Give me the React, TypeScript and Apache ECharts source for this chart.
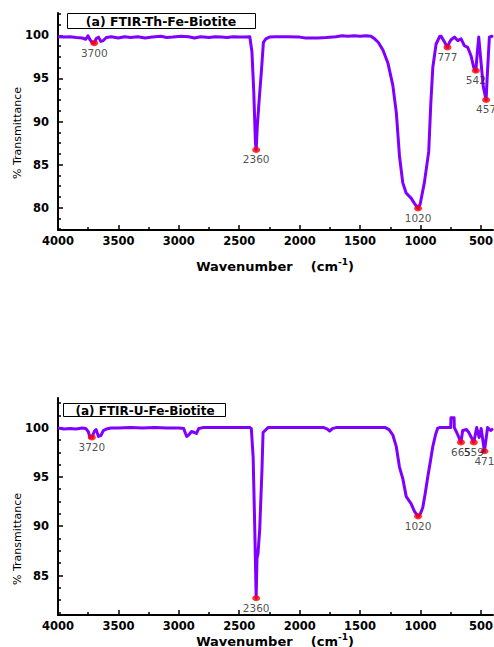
import React, { useEffect, useRef } from "react";
import * as echarts from "echarts";

// ---- Data (wavenumber cm^-1, % transmittance) ----
const thSpectrum: [number, number][] = [
  [4000, 99.85], [3950, 99.8], [3900, 99.85], [3850, 99.75], [3800, 99.7], [3770, 99.55],
  [3752, 99.95], [3735, 99.5], [3712, 99.1], [3700, 99.1], [3685, 99.6], [3665, 99.8],
  [3645, 99.3], [3625, 99.4], [3600, 99.75], [3560, 99.85], [3500, 99.7], [3450, 99.85],
  [3400, 99.75], [3340, 99.85], [3280, 99.7], [3220, 99.8], [3150, 99.9], [3100, 99.75],
  [3050, 99.8], [2980, 99.9], [2920, 99.85], [2870, 99.7], [2820, 99.85], [2750, 99.75],
  [2700, 99.85], [2650, 99.8], [2600, 99.75], [2550, 99.85], [2500, 99.8], [2450, 99.8],
  [2413, 99.85], [2395, 98.1], [2380, 93.5], [2366, 87.5], [2360, 86.7], [2350, 89.6],
  [2335, 92.5], [2317, 95.8], [2300, 99.2], [2280, 99.6], [2250, 99.8], [2200, 99.85],
  [2100, 99.85], [2000, 99.8], [1950, 99.7], [1850, 99.7], [1780, 99.75], [1700, 99.85],
  [1650, 99.95], [1600, 99.9], [1550, 99.95], [1500, 99.9], [1450, 99.95], [1410, 99.9],
  [1380, 99.6], [1350, 99.2], [1311, 98.3], [1270, 96.8], [1229, 94.2], [1200, 91.0],
  [1174, 86.0], [1147, 82.9], [1119, 81.7], [1078, 81.1], [1050, 80.5], [1020, 79.9],
  [1003, 80.4], [968, 82.9], [932, 86.5], [915, 92.0], [898, 96.3], [871, 99.0],
  [840, 99.9], [829, 99.9], [800, 99.2], [777, 98.6], [760, 99.2], [747, 99.5],
  [719, 99.8], [692, 99.4], [664, 99.6], [637, 98.8], [609, 98.6], [581, 97.6],
  [560, 96.3], [542, 95.9], [530, 98.0], [518, 99.8], [500, 97.0], [480, 94.0],
  [457, 92.5], [445, 96.0], [430, 99.8], [410, 99.9], [400, 99.8],
];
const thPeakWavenumbers = [3700, 2360, 1020, 777, 542, 457];
const thPeakValues = [99.1, 86.7, 79.9, 98.6, 95.9, 92.5];

const uSpectrum: [number, number][] = [
  [4000, 99.95], [3950, 99.85], [3900, 99.9], [3850, 99.85], [3800, 99.95], [3770, 99.9],
  [3750, 99.6], [3735, 99.0], [3720, 99.0], [3700, 99.6], [3685, 99.8], [3665, 99.1],
  [3645, 99.2], [3625, 99.7], [3600, 99.85], [3560, 99.95], [3500, 99.95], [3400, 100],
  [3300, 99.95], [3200, 100], [3100, 99.95], [3000, 99.95], [2960, 99.9], [2945, 99.4],
  [2935, 99.1], [2915, 99.3], [2895, 99.6], [2870, 99.5], [2855, 99.4], [2835, 99.9],
  [2800, 100], [2600, 100], [2410, 100], [2400, 99.9], [2385, 97.0], [2372, 90.0],
  [2360, 82.7], [2353, 86.8], [2345, 87.2], [2331, 89.6], [2312, 95.7], [2303, 99.5],
  [2262, 100], [2000, 100], [1800, 100], [1770, 99.85], [1752, 99.65], [1730, 99.9],
  [1700, 100], [1500, 100], [1290, 100], [1260, 99.8], [1229, 99.25], [1201, 98.1],
  [1174, 96.0], [1146, 94.8], [1118, 93.0], [1078, 92.3], [1050, 91.5], [1020, 91.0],
  [1000, 91.3], [981, 91.9], [960, 93.4], [940, 95.0], [918, 96.6], [898, 98.1],
  [875, 99.3], [857, 99.95], [843, 100], [750, 100], [748, 101], [722, 101], [720, 100],
  [700, 99.5], [665, 98.5], [651, 99.7], [620, 99.8], [600, 99.5], [559, 98.5],
  [535, 100], [515, 99.0], [498, 99.9], [471, 97.6], [445, 100], [420, 99.7], [400, 99.9],
];
const uPeakWavenumbers = [3720, 2360, 1020, 665, 559, 471];
const uPeakValues = [99.0, 82.7, 91.0, 98.5, 98.5, 97.6];

const xTickLabels = [4000, 3500, 3000, 2500, 2000, 1500, 1000, 500];
const xMinorTicks = [3750, 3250, 2750, 2250, 1750, 1250, 750];
const thYTicks = [80, 85, 90, 95, 100];
const uYTicks = [85, 90, 95, 100];

const LINE_COLOR = "#8000ff";
const FONT = "'DejaVu Sans', 'Liberation Sans', Arial, sans-serif";

function minorList(min: number, max: number, step: number, majors: number[]) {
  const out: number[] = [];
  for (let v = Math.ceil(min / step) * step; v <= max + 1e-9; v += step) {
    const r = Math.round(v * 100) / 100;
    if (!majors.some((m) => Math.abs(m - r) < 1e-6)) out.push(r);
  }
  return out;
}

export default function App() {
  const ref = useRef<HTMLDivElement>(null);
  useEffect(() => {
    if (!ref.current) return;
    const chart = echarts.init(ref.current, undefined, { renderer: "svg" });

    const grids = [
      { left: 58, top: 13, width: 435, height: 217, containLabel: false, outerBoundsMode: "none" },
      { left: 58, top: 398, width: 435, height: 217, containLabel: false, outerBoundsMode: "none" },
    ];
    const yRanges = [
      { min: 77.4, max: 102.6, majors: thYTicks },
      { min: 81, max: 103, majors: uYTicks },
    ];

    const xAxes: any[] = [];
    const yAxes: any[] = [];
    grids.forEach((_, gi) => {
      xAxes.push({
        type: "value", gridIndex: gi, position: "bottom", min: 400, max: 4000, inverse: true,
        axisLine: { show: true, onZero: false, lineStyle: { color: "#000", width: 2 } },
        axisTick: { show: true, inside: true, length: 5, lineStyle: { color: "#000", width: 1.5 }, customValues: xTickLabels },
        axisLabel: { show: true, customValues: xTickLabels, formatter: (v: number) => String(v), color: "#000", fontFamily: FONT, fontWeight: "bold", fontSize: 11.5, margin: 5 },
        splitLine: { show: false },
      });
      xAxes.push({
        type: "value", gridIndex: gi, position: "bottom", min: 400, max: 4000, inverse: true,
        axisLine: { show: false, onZero: false },
        axisTick: { show: true, inside: true, length: 3, lineStyle: { color: "#000", width: 1.5 }, customValues: xMinorTicks },
        axisLabel: { show: false },
        splitLine: { show: false },
      });
      const yr = yRanges[gi];
      yAxes.push({
        type: "value", gridIndex: gi, position: "left", min: yr.min, max: yr.max,
        axisLine: { show: true, onZero: false, lineStyle: { color: "#000", width: 2 } },
        axisTick: { show: true, inside: true, length: 5, lineStyle: { color: "#000", width: 1.5 }, customValues: yr.majors },
        axisLabel: { show: true, customValues: yr.majors, formatter: (v: number) => String(v), color: "#000", fontFamily: FONT, fontWeight: "bold", fontSize: 11.5, margin: 9 },
        splitLine: { show: false },
      });
      yAxes.push({
        type: "value", gridIndex: gi, position: "left", min: yr.min, max: yr.max,
        axisLine: { show: false, onZero: false },
        axisTick: { show: true, inside: true, length: 3, lineStyle: { color: "#000", width: 1.5 }, customValues: minorList(yr.min, yr.max, 1.25, yr.majors) },
        axisLabel: { show: false },
        splitLine: { show: false },
      });
    });

    const peakSeries = (gi: number, wns: number[], vals: number[]) => ({
      type: "scatter", xAxisIndex: gi * 2, yAxisIndex: gi * 2, z: 5,
      symbol: "circle", symbolSize: [8, 6],
      itemStyle: { color: "#ff0000" },
      data: wns.map((w, i) => ({ value: [w, vals[i]], name: String(w) })),
      label: {
        show: true, position: "bottom", distance: 1, formatter: (p: any) => p.name,
        color: "#222", fontFamily: FONT, fontSize: 10.5,
      },
      labelLayout: { hideOverlap: false },
    });
    const lineSeries = (gi: number, data: [number, number][]) => ({
      type: "line", xAxisIndex: gi * 2, yAxisIndex: gi * 2, z: 3,
      showSymbol: false, symbol: "none", smooth: false,
      lineStyle: { color: LINE_COLOR, width: 3, join: "round" },
      data,
    });

    const xTitle = (y: number) => ({
      type: "text", x: 275, y, z: 10,
      style: {
        x: 0, y: 0,
        text: "{b|Wavenumber    (cm}{s|-1}{b|)}",
        textAlign: "center", textVerticalAlign: "middle",
        rich: {
          b: { fontFamily: FONT, fontWeight: "bold", fontSize: 13, fill: "#000", verticalAlign: "bottom", lineHeight: 16 },
          s: { fontFamily: FONT, fontWeight: "bold", fontSize: 9, fill: "#000", verticalAlign: "top", lineHeight: 16, padding: [0, 0, 7, 0] },
        },
      },
    });

    chart.setOption({
      animation: false,
      backgroundColor: "#fff",
      grid: grids,
      xAxis: xAxes,
      yAxis: yAxes,
      series: [
        lineSeries(0, thSpectrum),
        peakSeries(0, thPeakWavenumbers, thPeakValues),
        lineSeries(1, uSpectrum),
        peakSeries(1, uPeakWavenumbers, uPeakValues),
      ],
      graphic: [
        { type: "rect", shape: { x: 67.5, y: 13.5, width: 188, height: 15 }, style: { fill: "#fff", stroke: "#000", lineWidth: 1 }, z: 20 },
        { type: "text", x: 161, y: 21.5, z: 21, style: { text: "(a) FTIR-Th-Fe-Biotite", fontFamily: FONT, fontWeight: "bold", fontSize: 12.5, fill: "#000", textAlign: "center", textVerticalAlign: "middle" } },
        { type: "rect", shape: { x: 63.5, y: 403.5, width: 162, height: 13 }, style: { fill: "#fff", stroke: "#000", lineWidth: 1 }, z: 20 },
        { type: "text", x: 145, y: 410.5, z: 21, style: { text: "(a) FTIR-U-Fe-Biotite", fontFamily: FONT, fontWeight: "bold", fontSize: 12, fill: "#000", textAlign: "center", textVerticalAlign: "middle" } },
        { type: "text", x: 17, y: 133, rotation: Math.PI / 2, z: 10, style: { text: "% Transmittance", fontFamily: FONT, fontSize: 11, fill: "#000", textAlign: "center", textVerticalAlign: "middle" } },
        { type: "text", x: 17, y: 539, rotation: Math.PI / 2, z: 10, style: { text: "% Transmittance", fontFamily: FONT, fontSize: 11, fill: "#000", textAlign: "center", textVerticalAlign: "middle" } },
        xTitle(265),
        xTitle(640),
      ],
    });
    return () => chart.dispose();
  }, []);
  return <div ref={ref} style={{ position: "fixed", left: 0, top: 0, width: 494, height: 647 }} />;
}
